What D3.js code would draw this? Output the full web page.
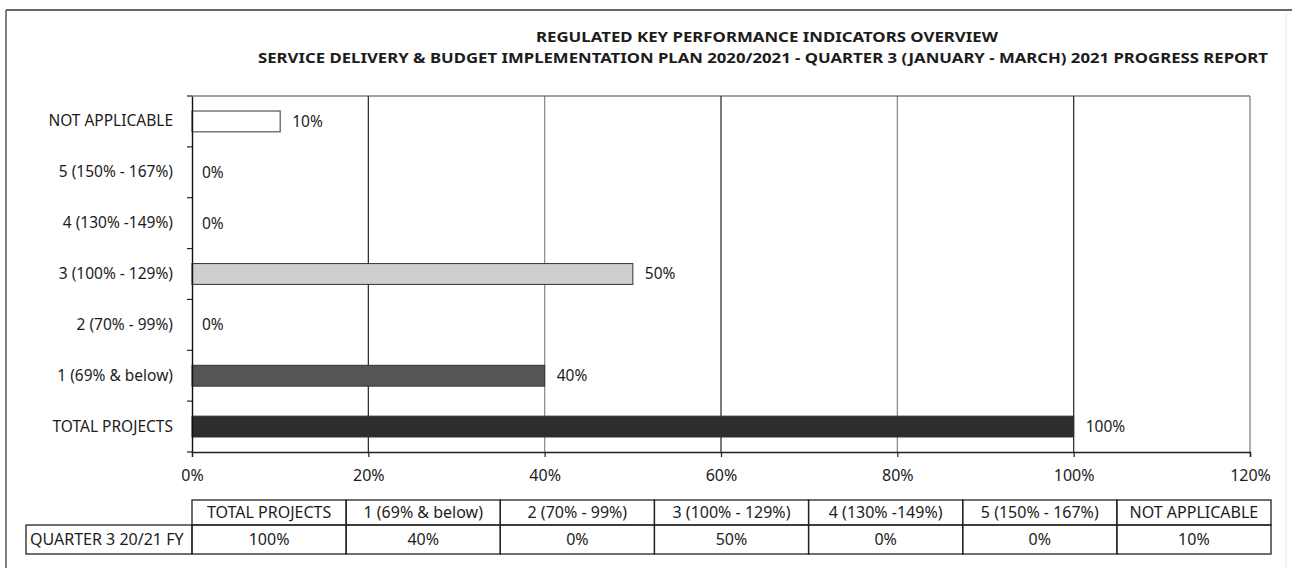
<!DOCTYPE html>
<html>
<head>
<meta charset="utf-8">
<script src="https://cdn.jsdelivr.net/npm/d3@7"></script>
<style>
  html, body { margin: 0; padding: 0; background: #fff; }
  svg { display: block; }
  text { font-family: "Noto Sans", "DejaVu Sans", sans-serif; fill: #1c1c1c; }
</style>
</head>
<body>
<svg id="chart" width="1292" height="568"></svg>
<script>
// ---- data ----
const titleLines = [
  "REGULATED KEY PERFORMANCE INDICATORS OVERVIEW",
  "SERVICE DELIVERY & BUDGET IMPLEMENTATION PLAN 2020/2021 - QUARTER 3 (JANUARY - MARCH) 2021 PROGRESS REPORT"
];
const categories = ["TOTAL PROJECTS", "1 (69% & below)", "2 (70% - 99%)", "3 (100% - 129%)", "4 (130% -149%)", "5 (150% - 167%)", "NOT APPLICABLE"];
const values = [1.00, 0.40, 0.00, 0.50, 0.00, 0.00, 0.10];
const tableHeaders = ["TOTAL PROJECTS", "1 (69% & below)", "2 (70% - 99%)", "3 (100% - 129%)", "4 (130% -149%)", "5 (150% - 167%)", "NOT APPLICABLE"];
const seriesName = "QUARTER 3 20/21 FY";
const xTicks = [0, 0.2, 0.4, 0.6, 0.8, 1.0, 1.2];
const barFills = ["#2d2d2d", "#555555", "#8a8a8a", "#cfcfcf", "#aaaaaa", "#e0e0e0", "#ffffff"];

// ---- layout ----
const svg = d3.select("#chart");
const plot = { left: 192, right: 1250, top: 96, bottom: 452 };
const fmt = d3.format(".0%");

// outer frame (scanned page border)
svg.append("line").attr("x1", 6).attr("x2", 1292).attr("y1", 10).attr("y2", 10)
  .attr("stroke", "#333").attr("stroke-width", 1.5);
svg.append("line").attr("x1", 6).attr("x2", 6).attr("y1", 10).attr("y2", 568)
  .attr("stroke", "#555").attr("stroke-width", 1.5);
svg.append("line").attr("x1", 1286).attr("x2", 1286).attr("y1", 14).attr("y2", 568)
  .attr("stroke", "#e4e4e4").attr("stroke-width", 1);

// titles
svg.append("text").attr("x", 767).attr("y", 42).attr("text-anchor", "middle")
  .attr("font-weight", "bold").attr("font-size", 14)
  .attr("textLength", 462).attr("lengthAdjust", "spacingAndGlyphs")
  .text(titleLines[0]);
svg.append("text").attr("x", 763).attr("y", 63).attr("text-anchor", "middle")
  .attr("font-weight", "bold").attr("font-size", 14)
  .attr("textLength", 1010).attr("lengthAdjust", "spacingAndGlyphs")
  .text(titleLines[1]);

// scales
const x = d3.scaleLinear().domain([0, 1.2]).range([plot.left, plot.right]);
const y = d3.scaleBand().domain(categories.slice().reverse())
  .range([plot.top, plot.bottom]).paddingInner(0.59).paddingOuter(0.295);

// gridlines
const gridColor = v => (Math.round(v * 10) % 4 === 0 ? "#888" : "#222");
svg.append("g").selectAll("line").data(xTicks.filter(v => v > 0 && v < 1.2)).join("line")
  .attr("x1", d => x(d)).attr("x2", d => x(d))
  .attr("y1", plot.top).attr("y2", plot.bottom)
  .attr("stroke", d => gridColor(d)).attr("stroke-width", 1.2);

// plot border (top & right)
svg.append("line").attr("x1", plot.left).attr("x2", plot.right).attr("y1", plot.top).attr("y2", plot.top)
  .attr("stroke", "#444").attr("stroke-width", 1.2);
svg.append("line").attr("x1", plot.right).attr("x2", plot.right).attr("y1", plot.top).attr("y2", plot.bottom)
  .attr("stroke", "#777").attr("stroke-width", 1.2);

// bars
const rows = categories.map((c, i) => ({ c, v: values[i], fill: barFills[i] }));
svg.append("g").selectAll("rect").data(rows.filter(d => d.v > 0)).join("rect")
  .attr("x", x(0)).attr("y", d => y(d.c))
  .attr("width", d => x(d.v) - x(0)).attr("height", y.bandwidth())
  .attr("fill", d => d.fill).attr("stroke", "#333").attr("stroke-width", 1);

// value labels
svg.append("g").selectAll("text").data(rows).join("text")
  .attr("x", d => x(d.v) + (d.v > 0 ? 12 : 10))
  .attr("y", d => y(d.c) + y.bandwidth() / 2)
  .attr("dy", "0.35em").attr("font-size", 15.5)
  .text(d => fmt(d.v));

// y axis
const yAxis = svg.append("g").attr("transform", `translate(${plot.left},0)`)
  .call(d3.axisLeft(y).tickSize(0).tickPadding(19));
yAxis.select(".domain").attr("stroke", "#111").attr("stroke-width", 1.4);
yAxis.selectAll(".tick text").attr("font-size", 15.5).attr("fill", "#1c1c1c")
  .attr("font-family", '"Noto Sans", sans-serif');
// category boundary ticks
const step = y.step();
svg.append("g").selectAll("line").data(d3.range(categories.length + 1)).join("line")
  .attr("x1", plot.left - 5).attr("x2", plot.left)
  .attr("y1", i => plot.top + i * step).attr("y2", i => plot.top + i * step)
  .attr("stroke", "#222").attr("stroke-width", 1.2);

// x axis
const xAxis = svg.append("g").attr("transform", `translate(0,${plot.bottom})`)
  .call(d3.axisBottom(x).tickValues(xTicks).tickFormat(fmt).tickSize(5).tickPadding(13));
xAxis.select(".domain").attr("stroke", "#222").attr("stroke-width", 1.4);
xAxis.selectAll(".tick line").attr("stroke", "#222").attr("stroke-width", 1.2);
xAxis.selectAll(".tick text").attr("font-size", 16).attr("fill", "#1c1c1c")
  .attr("font-family", '"Noto Sans", sans-serif');

// data table
const tbl = { left: 26, colLeft: 192, right: 1271, top: 500, mid: 525, bottom: 554 };
const col = d3.scaleBand().domain(tableHeaders).range([tbl.colLeft, tbl.right]);
const tg = svg.append("g");
// header cells
tg.selectAll("rect.h").data(tableHeaders).join("rect").attr("class", "h")
  .attr("x", d => col(d)).attr("y", tbl.top).attr("width", col.bandwidth()).attr("height", tbl.mid - tbl.top)
  .attr("fill", "none").attr("stroke", "#222").attr("stroke-width", 1.3);
tg.selectAll("text.h").data(tableHeaders).join("text").attr("class", "h")
  .attr("x", d => col(d) + col.bandwidth() / 2).attr("y", (tbl.top + tbl.mid) / 2)
  .attr("dy", "0.35em").attr("text-anchor", "middle").attr("font-size", 16)
  .text(d => d);
// data cells
tg.append("rect").attr("x", tbl.left).attr("y", tbl.mid).attr("width", tbl.colLeft - tbl.left)
  .attr("height", tbl.bottom - tbl.mid).attr("fill", "none").attr("stroke", "#222").attr("stroke-width", 1.3);
tg.append("text").attr("x", tbl.left + 4).attr("y", (tbl.mid + tbl.bottom) / 2).attr("dy", "0.35em")
  .attr("font-size", 16).text(seriesName);
tg.selectAll("rect.d").data(tableHeaders).join("rect").attr("class", "d")
  .attr("x", d => col(d)).attr("y", tbl.mid).attr("width", col.bandwidth()).attr("height", tbl.bottom - tbl.mid)
  .attr("fill", "none").attr("stroke", "#222").attr("stroke-width", 1.3);
tg.selectAll("text.d").data(tableHeaders).join("text").attr("class", "d")
  .attr("x", d => col(d) + col.bandwidth() / 2).attr("y", (tbl.mid + tbl.bottom) / 2)
  .attr("dy", "0.35em").attr("text-anchor", "middle").attr("font-size", 16)
  .text((d, i) => fmt(values[categories.indexOf(d)]));
</script>
</body>
</html>
